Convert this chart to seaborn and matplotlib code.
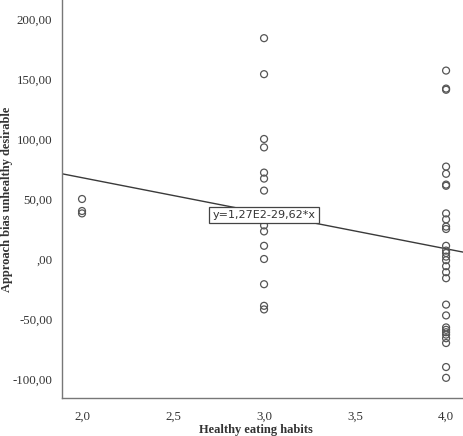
import numpy as np
import pandas as pd
import matplotlib
matplotlib.use("Agg")
import matplotlib.pyplot as plt
import seaborn as sns

habit_levels = [2.0, 3.0, 4.0]
bias_at_2 = [50, 40, 38]
bias_at_3 = [184, 154, 100, 93, 72, 67, 57, 28, 23, 11, 0, -21, -39, -42]
bias_at_4 = [157, 142, 141, 77, 71, 62, 61, 38, 33, 27, 25, 11, 7, 5, 2,
             -1, -6, -11, -16, -38, -47, -57, -59, -61, -63, -66, -70, -90, -99]

fit_intercept = 127.0
fit_slope = -29.62
fit_label = "y=1,27E2-29,62*x"

y_ticks = [-100, -50, 0, 50, 100, 150, 200]
x_ticks = [2.0, 2.5, 3.0, 3.5, 4.0]
x_lim = (1.89, 4.093)
y_lim = (-115.8, 215.8)


def comma_fmt(v, digits):
    s = f"{v:.{digits}f}".replace(".", ",")
    if v == 0 and digits == 2:
        s = ",00"
    return s


rows = []
for lvl, vals in zip(habit_levels, [bias_at_2, bias_at_3, bias_at_4]):
    for v in vals:
        rows.append({"habits": lvl, "bias": v})
df = pd.DataFrame(rows)

sns.set_style("white")
plt.rcParams["font.family"] = ["Liberation Serif", "DejaVu Serif"]

W, H = 463, 436
fig = plt.figure(figsize=(W / 100, H / 100), dpi=100)
left, bottom = 62 / W, (H - 398) / H
ax = fig.add_axes([left, bottom, 1 - left, 1 - bottom])

sns.scatterplot(data=df, x="habits", y="bias", ax=ax, marker="o", s=25,
                facecolor="none", edgecolor="#555555", linewidth=0.9,
                legend=False, zorder=3)

# fit line across the whole x range
line_x = np.array(x_lim)
line_y = fit_intercept + fit_slope * line_x
sns.lineplot(x=line_x, y=line_y, ax=ax, color="#3a3a3a", linewidth=1.0,
             zorder=2)

ax.text(3.0, fit_intercept + fit_slope * 3.0 - 1.5, fit_label,
        ha="center", va="center", fontsize=8, family="DejaVu Sans",
        color="#333333", zorder=4,
        bbox=dict(boxstyle="square,pad=0.3", facecolor="white",
                  edgecolor="#444444", linewidth=0.9))

ax.set_xlim(*x_lim)
ax.set_ylim(*y_lim)
ax.set_xticks(x_ticks)
ax.set_yticks(y_ticks)
ax.set_xticklabels([comma_fmt(t, 1) for t in x_ticks])
ax.set_yticklabels([comma_fmt(t, 2) for t in y_ticks])
ax.tick_params(axis="both", direction="out", length=5, width=1.3,
               color="#444444", labelsize=9.3, labelcolor="#333333", pad=2)
ax.tick_params(axis="x", pad=4)
ax.set_xlabel("")
ax.set_ylabel("")

for side in ["top", "right"]:
    ax.spines[side].set_visible(False)
for side in ["left", "bottom"]:
    ax.spines[side].set_color("#777777")
    ax.spines[side].set_linewidth(1.0)

fig.text(1 / W, 1 - 199 / H, "Approach bias unhealthy desirable",
         rotation=90, ha="left", va="center", fontsize=9,
         fontweight="bold", color="#333333")
fig.text(256 / W, 0.5 / H, "Healthy eating habits",
         ha="center", va="bottom", fontsize=9, fontweight="bold",
         color="#333333")

fig.savefig("out.png", dpi=100)
